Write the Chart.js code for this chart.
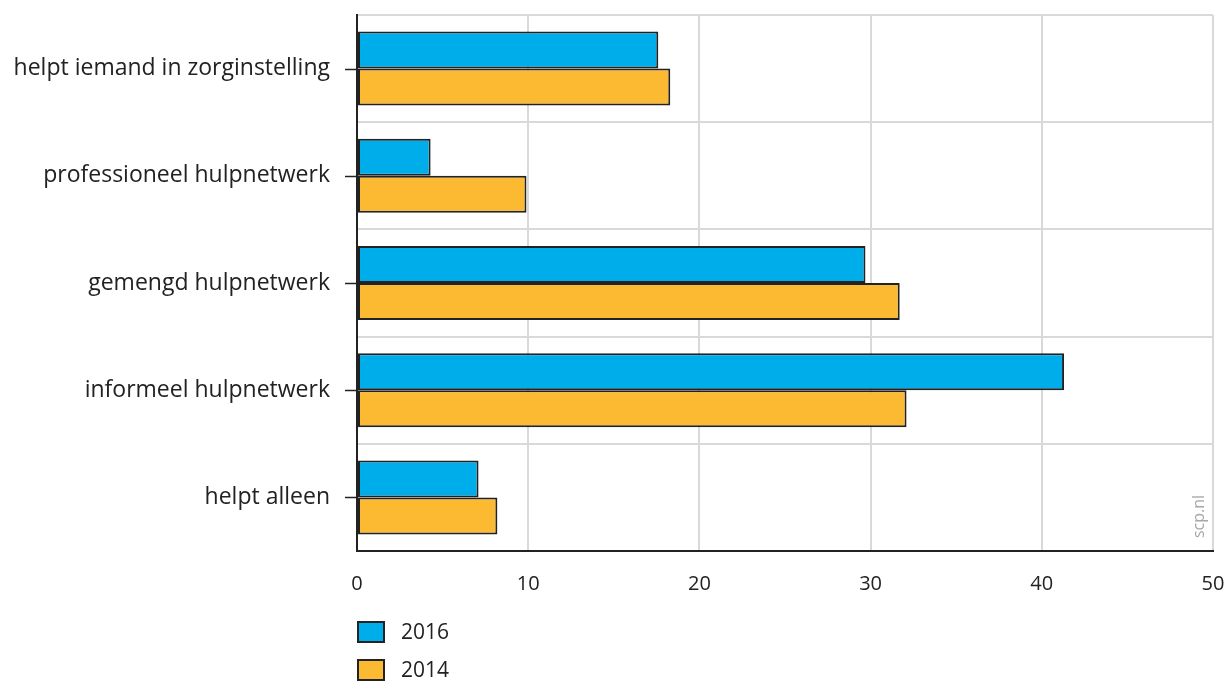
<!DOCTYPE html>
<html>
<head>
<meta charset="utf-8">
<script src="https://cdn.jsdelivr.net/npm/chart.js@4"></script>
<style>
  html, body { margin: 0; padding: 0; background: #fff; }
  #wrap { position: relative; width: 1227px; height: 686px; }
  #legend { position: absolute; left: 357px; top: 620px; font-family: 'Open Sans', sans-serif; font-size: 21px; color: #222; }
  #legend div { height: 38px; display: flex; align-items: flex-start; }
  #legend span.box { display: inline-block; width: 24px; height: 18px; border: 2px solid #222; margin-right: 16px; margin-top: 1px; }
  #legend span.lbl { line-height: 22px; }
</style>
</head>
<body>
<div id="wrap">
  <canvas id="chart" width="1227" height="686"></canvas>
  <div id="legend"></div>
</div>
<script>
// data
const categories = ['helpt iemand in zorginstelling', 'professioneel hulpnetwerk', 'gemengd hulpnetwerk', 'informeel hulpnetwerk', 'helpt alleen'];
const values2016 = [17.6, 4.3, 29.7, 41.3, 7.1];
const values2014 = [18.3, 9.9, 31.7, 32.1, 8.2];
const seriesNames = ['2016', '2014'];
const seriesColors = ['#00adeb', '#fbba31'];

// legend (html)
const legendEl = document.getElementById('legend');
seriesNames.forEach((name, i) => {
    const d = document.createElement('div');
    d.innerHTML = `<span class="box" style="background:${seriesColors[i]}"></span><span class="lbl">${name}</span>`;
    legendEl.appendChild(d);
});

// korte tickmarks links op het midden van elke categorie + scp.nl
const extras = {
    id: 'extras',
    afterDraw(chart) {
        const c = chart.ctx;
        const y = chart.scales.y;
        const area = chart.chartArea;
        c.save();
        c.strokeStyle = '#222';
        c.lineWidth = 1.5;
        categories.forEach((cat, i) => {
            const py = Math.round(y.getPixelForTick(i)) + 0.5;
            c.beginPath();
            c.moveTo(area.left - 12, py);
            c.lineTo(area.left, py);
            c.stroke();
        });
        c.translate(area.right - 14, area.bottom - 13);
        c.rotate(-Math.PI / 2);
        c.fillStyle = '#a6a6a6';
        c.font = '16px "Open Sans", sans-serif';
        c.textAlign = 'left';
        c.textBaseline = 'middle';
        c.fillText('scp.nl', 0, 0);
        c.restore();
    }
};

new Chart(document.getElementById('chart'), {
    type: 'bar',
    data: {
        labels: categories,
        datasets: [
            { label: seriesNames[0], data: values2016, backgroundColor: seriesColors[0], borderColor: '#222', borderWidth: 2, borderSkipped: false },
            { label: seriesNames[1], data: values2014, backgroundColor: seriesColors[1], borderColor: '#222', borderWidth: 2, borderSkipped: false }
        ]
    },
    options: {
        indexAxis: 'y',
        responsive: false,
        animation: false,
        layout: { padding: { top: 15, right: 14, left: 0, bottom: 0 } },
        datasets: { bar: { categoryPercentage: 0.69, barPercentage: 1 } },
        plugins: { legend: { display: false }, tooltip: { enabled: false } },
        scales: {
            x: {
                min: 0, max: 50,
                ticks: { stepSize: 10, color: '#222', font: { family: 'Open Sans', size: 20 }, padding: 21 },
                grid: { color: '#d9d9d9', lineWidth: 2, drawTicks: false },
                border: { color: '#222', width: 2 },
                afterFit(scale) { scale.height = 135; scale.paddingLeft = 0; scale.paddingRight = 0; }
            },
            y: {
                ticks: { color: '#222', font: { family: 'Open Sans', size: 23 }, padding: 27 },
                grid: { color: '#d9d9d9', lineWidth: 2, offset: true, drawTicks: false },
                border: { color: '#222', width: 2 },
                afterFit(scale) { scale.width = 357; scale.paddingTop = 0; scale.paddingBottom = 0; }
            }
        }
    },
    plugins: [extras]
});
</script>
</body>
</html>
